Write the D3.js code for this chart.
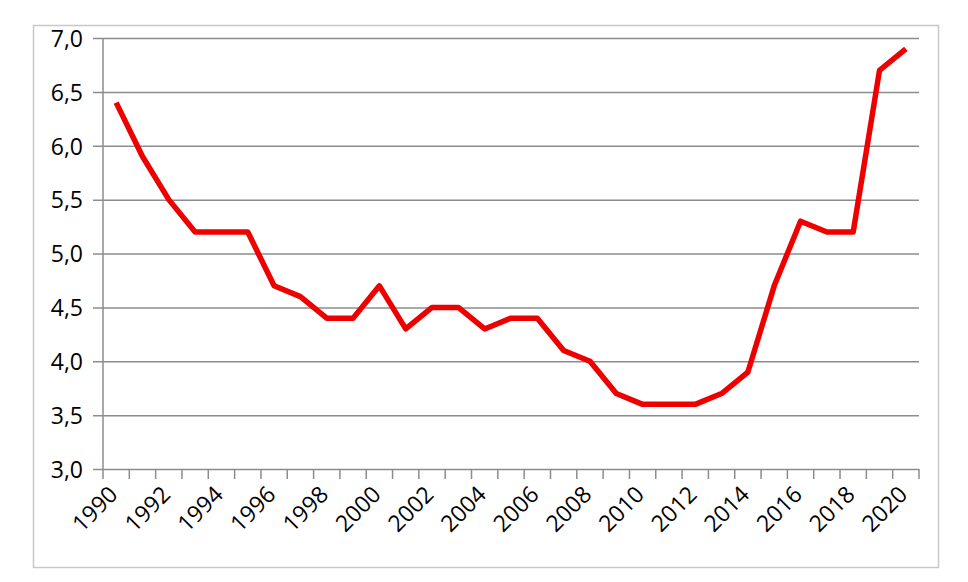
<!DOCTYPE html>
<html>
<head>
<meta charset="utf-8">
<script src="https://cdn.jsdelivr.net/npm/d3@7"></script>
<style>
  body { margin: 0; background: #fff; }
  svg text { font-family: "Open Sans", sans-serif; fill: #000; }
</style>
</head>
<body>
<div id="chart"></div>
<script>
const years = d3.range(1990, 2021);
const values = [
  6.4, 5.9, 5.5, 5.2, 5.2, 5.2, 4.7, 4.6, 4.4, 4.4,
  4.7, 4.3, 4.5, 4.5, 4.3, 4.4, 4.4, 4.1, 4.0, 3.7,
  3.6, 3.6, 3.6, 3.7, 3.9, 4.7, 5.3, 5.2, 5.2, 6.7,
  6.9
];
const yTicks = [3.0, 3.5, 4.0, 4.5, 5.0, 5.5, 6.0, 6.5, 7.0];
const xLabels = years.filter((y) => y % 2 === 0);

(function drawChart() {
  const width = 968, height = 582;
  const margin = { top: 38, right: 49, bottom: 113, left: 103 };

  const svg = d3.select("#chart").append("svg")
    .attr("width", width)
    .attr("height", height);

  // outer frame
  svg.append("rect")
    .attr("x", 33.5).attr("y", 25.5)
    .attr("width", 905).attr("height", 542)
    .attr("fill", "none")
    .attr("stroke", "#c8c8c8")
    .attr("stroke-width", 1.5);

  const x = d3.scaleBand()
    .domain(years)
    .range([margin.left, width - margin.right]);

  const y = d3.scaleLinear()
    .domain([3, 7])
    .range([height - margin.bottom, margin.top]);

  const fmt = (d) => d3.format(".1f")(d).replace(".", ",");

  // horizontal grid + y axis
  const yAxis = svg.append("g")
    .attr("transform", `translate(${margin.left},0)`)
    .call(d3.axisLeft(y).tickValues(yTicks).tickFormat(fmt)
      .tickSize(10).tickPadding(10))
    .call((g) => g.select(".domain").remove());
  yAxis.selectAll(".tick line")
    .attr("x2", width - margin.right - margin.left)
    .attr("x1", -10)
    .attr("stroke", "#8c8c8c")
    .attr("stroke-width", 1.5);
  yAxis.selectAll(".tick text")
    .attr("font-size", 23)
    .attr("dy", "0.36em");

  svg.append("line")
    .attr("x1", margin.left).attr("x2", margin.left)
    .attr("y1", margin.top).attr("y2", height - margin.bottom)
    .attr("stroke", "#8c8c8c")
    .attr("stroke-width", 1.5);

  // x axis: tick marks at category boundaries
  const xBase = height - margin.bottom;
  const boundaries = years.map((d) => x(d)).concat([x(2020) + x.bandwidth()]);
  svg.append("g").selectAll("line")
    .data(boundaries)
    .join("line")
    .attr("x1", (d) => d).attr("x2", (d) => d)
    .attr("y1", xBase).attr("y2", xBase + 10)
    .attr("stroke", "#8c8c8c")
    .attr("stroke-width", 1.5);

  svg.append("g").selectAll("text")
    .data(xLabels)
    .join("text")
    .attr("text-anchor", "end")
    .attr("font-size", 23)
    .attr("transform", (d) =>
      `translate(${x(d) + x.bandwidth() / 2 + 3},${xBase + 27}) rotate(-45)`)
    .text((d) => d);

  // data line
  const line = d3.line()
    .x((d, i) => x(years[i]) + x.bandwidth() / 2)
    .y((d) => y(d));

  svg.append("path")
    .datum(values)
    .attr("d", line)
    .attr("fill", "none")
    .attr("stroke", "#ee0000")
    .attr("stroke-width", 5.5)
    .attr("stroke-linejoin", "round");
})();
</script>
</body>
</html>
